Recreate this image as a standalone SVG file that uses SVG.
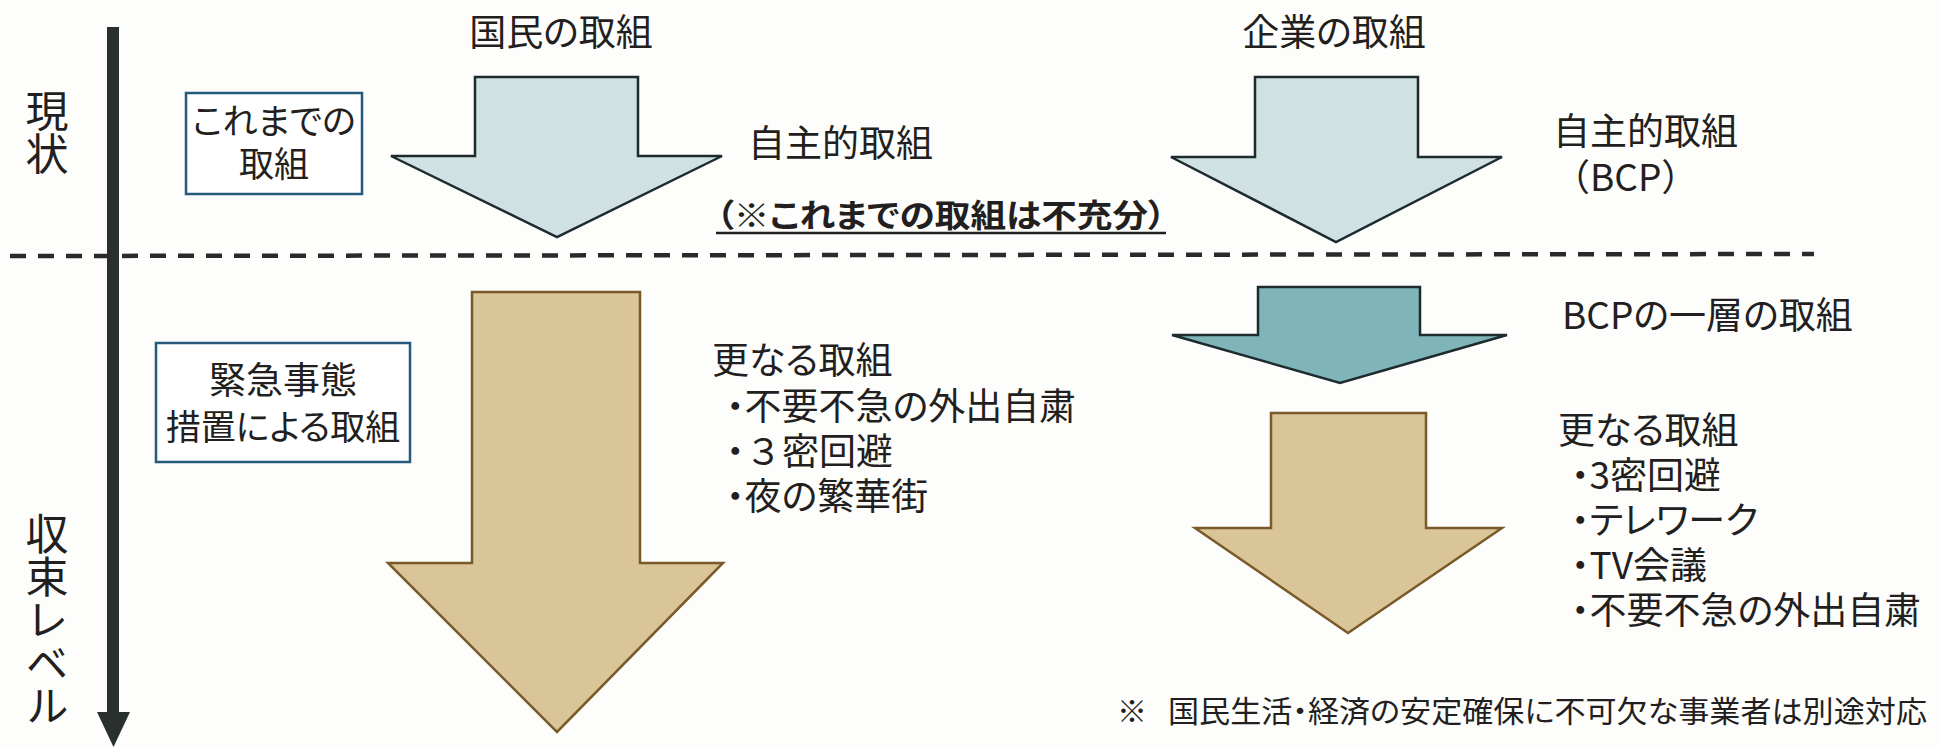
<svg xmlns="http://www.w3.org/2000/svg" width="1939" height="747" viewBox="0 0 1939 747">
<style>
text{font-family:"Noto Sans CJK JP","Noto Sans CJK SC",sans-serif;fill:#231f20;font-feature-settings:"palt";}
.t{font-size:37px;}
.ax{font-size:43px;writing-mode:vertical-rl;font-feature-settings:normal;}
.note{font-size:30px;}
.bold{font-size:32px;font-weight:bold;}
.box{fill:#ffffff;stroke:#245a7c;stroke-width:2.5;}
.light{fill:#cfe1e0;stroke:#1d2a2e;stroke-width:2.5;}
.teal{fill:#7fb5b9;stroke:#1d2a2e;stroke-width:2.5;}
.tan{fill:#d9c597;stroke:#7a5a28;stroke-width:2.5;}
.mid{text-anchor:middle;}
.nopalt{font-feature-settings:normal;}
</style>
<rect width="1939" height="747" fill="#fdfdfb"/>
<g id="connectors">
  <rect x="107" y="27" width="12" height="688" fill="#2a302e"/>
  <polygon points="97,712 130,712 113.5,747" fill="#2a302e"/>
  <line x1="10" y1="256" x2="1814" y2="254" stroke="#2a2a2a" stroke-width="4.5" stroke-dasharray="16,12"/>
</g>
<g id="axis-labels">
  <text class="ax" x="47" y="89">現状</text>
  <text class="ax" x="47" y="512">収束レベル</text>
</g>
<g id="box-current">
  <rect class="box" x="186" y="93" width="176" height="101"/>
  <text class="t mid" style="font-size:35px"><tspan x="274" y="134">これまでの</tspan><tspan x="274" y="177">取組</tspan></text>
</g>
<g id="box-emergency">
  <rect class="box" x="156" y="343" width="254" height="119"/>
  <text class="t mid"><tspan x="283" y="394">緊急事態</tspan><tspan x="283" y="440" style="font-size:35px">措置による取組</tspan></text>
</g>
<g id="people-current">
  <text class="t mid" x="561" y="46">国民の取組</text>
  <polygon class="light" points="475,77 638,77 638,156 722,156 557,237 391,156 475,156"/>
  <text class="t" x="748" y="157">自主的取組</text>
</g>
<g id="insufficient-note">
  <text class="bold" x="716" y="227" textLength="450" lengthAdjust="spacingAndGlyphs">（※これまでの取組は不充分）</text>
  <line x1="716" y1="233" x2="1166" y2="233" stroke="#231f20" stroke-width="2.5"/>
</g>
<g id="company-current">
  <text class="t mid" x="1334" y="46">企業の取組</text>
  <polygon class="light" points="1255,77 1418,77 1418,157 1502,157 1336,242 1171,157 1255,157"/>
  <text class="t"><tspan x="1553" y="145">自主的取組</tspan><tspan x="1553" y="191" class="nopalt">（BCP）</tspan></text>
</g>
<g id="people-emergency">
  <polygon class="tan" points="472,292 640,292 640,563 723,563 557,732 388,563 472,563"/>
  <text class="t"><tspan x="712" y="374">更なる取組</tspan><tspan x="726" y="420">・不要不急の外出自粛</tspan><tspan x="726" y="465">・</tspan><tspan x="745" y="465" class="nopalt">３密回避</tspan><tspan x="726" y="510">・夜の繁華街</tspan></text>
</g>
<g id="company-bcp">
  <polygon class="teal" points="1258,287 1420,287 1420,335 1507,335 1340,383 1172,335 1258,335"/>
  <text class="t" x="1562" y="329">BCPの一層の取組</text>
</g>
<g id="company-emergency">
  <polygon class="tan" points="1271,413 1426,413 1426,528 1502,528 1348,633 1195,528 1271,528"/>
  <text class="t"><tspan x="1558" y="444">更なる取組</tspan><tspan x="1571" y="489">・3密回避</tspan><tspan x="1571" y="534">・テレワーク</tspan><tspan x="1571" y="579">・TV会議</tspan><tspan x="1571" y="624">・不要不急の外出自粛</tspan></text>
</g>
<g id="footnote">
  <text class="note" x="1117" y="722">※</text>
  <text class="note" x="1168" y="722" textLength="759" lengthAdjust="spacingAndGlyphs">国民生活・経済の安定確保に不可欠な事業者は別途対応</text>
</g>
</svg>
